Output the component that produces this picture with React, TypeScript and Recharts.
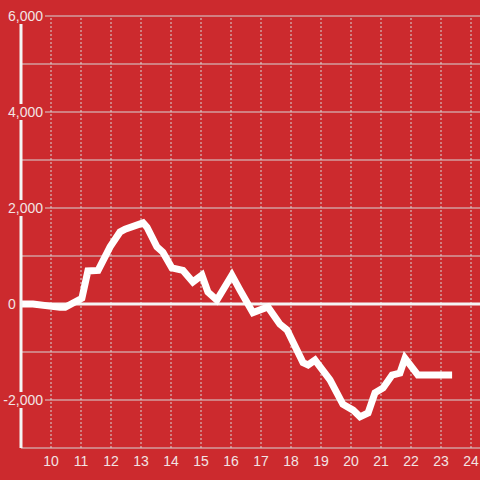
import { LineChart, Line, XAxis, YAxis, CartesianGrid, ReferenceLine } from 'recharts';

const hours = [9, 9.4, 10.3, 10.47, 11.03, 11.23, 11.57, 11.97, 12.3, 12.47, 13.07, 13.2, 13.53, 13.73, 14.03, 14.4, 14.73, 15.03, 15.23, 15.53, 16.03, 16.3, 16.73, 17.23, 17.63, 17.87, 18.4, 18.57, 18.8, 19.3, 19.73, 20.07, 20.3, 20.57, 20.8, 21.07, 21.37, 21.63, 21.8, 22.23, 23.37];
const values = [0, 0, -70, -70, 120, 690, 700, 1190, 1500, 1560, 1690, 1600, 1190, 1080, 750, 700, 460, 600, 250, 80, 600, 290, -180, -60, -420, -540, -1220, -1270, -1170, -1580, -2090, -2210, -2350, -2270, -1850, -1750, -1480, -1440, -1130, -1480, -1480];
const xTicks = [10, 11, 12, 13, 14, 15, 16, 17, 18, 19, 20, 21, 22, 23, 24];
const yTicks = [-3000, -2000, -1000, 0, 1000, 2000, 3000, 4000, 5000, 6000];

const data = hours.map((h, i) => ({ h, v: values[i] }));

const RED = '#cc2a2e';
const TEXT = '#f2e4e4';

if (typeof document !== 'undefined') document.body.style.margin = '0';

const YTick = ({ y, payload }: any) => {
    const v = payload.value;
    if (v % 2000 !== 0) return null;
    if (v === 0) {
        return (
            <g>
                <rect x={0} y={y - 8} width={17} height={16} fill={RED} />
                <text x={8} y={y} dy="0.35em" fill={TEXT} fontSize={14}>0</text>
            </g>
        );
    }
    return (
        <g>
            <rect x={0} y={y - 8} width={45} height={16} fill={RED} />
            <text x={43} y={y} dy="0.35em" textAnchor="end" fill={TEXT} fontSize={14}>
                {v.toLocaleString('en-US')}
            </text>
        </g>
    );
};

export default function App() {
    return (
        <div style={{ width: 480, height: 480, background: RED, fontFamily: '"Liberation Sans", Arial, sans-serif' }}>
            <LineChart width={480} height={480} data={data} margin={{ top: 16, right: 0, bottom: 0, left: 0 }}>
                <CartesianGrid vertical={false} stroke="#d6d6d6" />
                <XAxis
                    dataKey="h"
                    type="number"
                    domain={[9, 24.3]}
                    allowDataOverflow
                    ticks={xTicks}
                    axisLine={false}
                    tickLine={false}
                    tick={{ fill: TEXT, fontSize: 14 }}
                    height={32}
                />
                <YAxis
                    type="number"
                    domain={[-3000, 6000]}
                    ticks={yTicks}
                    width={21}
                    axisLine={{ stroke: '#f4f4f4', strokeWidth: 3 }}
                    tickLine={false}
                    tick={<YTick />}
                    interval={0}
                />
                {xTicks.map(t => (
                    <ReferenceLine key={t} x={t} stroke="#d6d6d6" strokeDasharray="2 2" />
                ))}
                <ReferenceLine y={0} stroke="#f4f4f4" strokeWidth={3} />
                <Line dataKey="v" stroke="#ffffff" strokeWidth={7} dot={false} isAnimationActive={false} />
            </LineChart>
        </div>
    );
}
